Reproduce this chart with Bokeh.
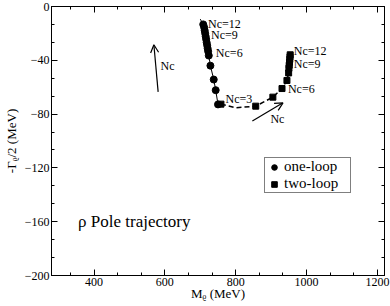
from bokeh.plotting import figure
from bokeh.models import (Range1d, SingleIntervalTicker, LinearAxis, Arrow, OpenHead,
                          Legend, LegendItem, ColumnDataSource, CustomJSTickFormatter)
from bokeh.core.properties import value
from bokeh.embed import file_html
from bokeh.resources import INLINE

# ---- data ----
one_loop_M = [708.3, 711.0, 712.4, 713.8, 715.2, 716.6, 718.0, 719.4, 720.8, 722.2, 724.0, 728.6, 738.0, 743.5, 750.0]
one_loop_G = [-13.3, -15.6, -17.8, -20.0, -22.2, -24.4, -26.7, -28.9, -31.1, -33.3, -36.5, -44.0, -54.3, -62.2, -72.8]
one_loop_line_M = [700.0] + one_loop_M
one_loop_line_G = [-9.4] + one_loop_G

two_loop_M = [758.3, 856.5, 904.9, 930.7, 944.6, 949.4, 950.2, 951.0, 951.8, 952.7, 953.2, 953.8]
two_loop_G = [-72.6, -74.1, -67.4, -61.0, -55.0, -49.4, -45.9, -43.7, -41.5, -39.3, -37.4, -35.9]
two_loop_line_M = [758.3, 800.0, 856.5, 904.9, 930.7, 944.6, 949.4, 950.2, 951.0, 951.8, 952.7, 953.2, 953.8]
two_loop_line_G = [-72.6, -75.3, -74.1, -67.4, -61.0, -55.0, -49.4, -45.9, -43.7, -41.5, -39.3, -37.4, -35.9]

arrow_x0 = [581.0, 847.0]
arrow_y0 = [-63.5, -85.2]
arrow_x1 = [569.0, 933.5]
arrow_y1 = [-28.4, -71.6]

label_text = ["Nc=12", "Nc=9", "Nc=6", "Nc=3", "Nc=12", "Nc=9", "Nc=6", "Nc", "Nc"]
label_x = [722.0, 730.5, 744.0, 771.4, 964.0, 964.0, 947.4, 587.8, 898.0]
label_y = [-13.3, -21.0, -34.8, -69.1, -33.3, -42.7, -61.0, -44.4, -83.9]

title_text = ["\u03c1 Pole trajectory"]
title_x = [355.0]
title_y = [-160.0]

series_names = ["one-loop", "two-loop"]
x_title = "M\u1d68 (MeV)"
y_title = "-\u0393\u1d68/2 (MeV)"

x_range = (280, 1220)
y_range = (-200, 0)
x_major = 200
y_major = 40

FONT = "Liberation Serif"

p = figure(width=390, height=306, output_backend="svg", toolbar_location=None,
           x_range=Range1d(*x_range), y_range=Range1d(*y_range),
           x_axis_label=x_title, y_axis_label=y_title,
           min_border_left=46, min_border_right=6, min_border_top=6, min_border_bottom=31)
p.background_fill_color = "white"
p.border_fill_color = "white"
p.outline_line_color = "black"
p.outline_line_width = 1
p.xgrid.visible = False
p.ygrid.visible = False

def style_axis(ax, ticker, labels=True):
    ax.ticker = ticker
    ax.axis_line_color = "black"
    ax.major_tick_line_color = "black"
    ax.minor_tick_line_color = "black"
    ax.major_tick_in = 6
    ax.major_tick_out = 0
    ax.minor_tick_in = 3
    ax.minor_tick_out = 0
    if labels:
        ax.major_label_text_font = FONT
        ax.major_label_text_font_size = "12px"
        ax.major_label_text_color = "black"
        ax.major_label_standoff = 2
        ax.axis_label_text_font = FONT
        ax.axis_label_text_font_size = "13px"
        ax.axis_label_text_font_style = "normal"
        ax.axis_label_text_color = "black"
    else:
        ax.formatter = CustomJSTickFormatter(code="return ''")
        ax.major_label_standoff = 0
        ax.major_label_text_font_size = "1px"

style_axis(p.xaxis[0], SingleIntervalTicker(interval=x_major, num_minor_ticks=3))
style_axis(p.yaxis[0], SingleIntervalTicker(interval=y_major, num_minor_ticks=3))
p.xaxis[0].axis_label_standoff = -3
p.yaxis[0].axis_label_standoff = 3

top_axis = LinearAxis()
style_axis(top_axis, SingleIntervalTicker(interval=x_major, num_minor_ticks=3), labels=False)
p.add_layout(top_axis, "above")
right_axis = LinearAxis()
style_axis(right_axis, SingleIntervalTicker(interval=y_major, num_minor_ticks=3), labels=False)
p.add_layout(right_axis, "right")

# curves
p.line(one_loop_line_M, one_loop_line_G, line_color="black", line_width=1)
p.line(two_loop_line_M, two_loop_line_G, line_color="black", line_width=1.5, line_dash="5 3")
r1 = p.scatter(one_loop_M, one_loop_G, marker="circle", size=7, fill_color="black", line_color="black")
r2 = p.scatter(two_loop_M, two_loop_G, marker="square", size=6, fill_color="black", line_color="black")

# arrows
arrow_src = ColumnDataSource(dict(x0=arrow_x0, y0=arrow_y0, x1=arrow_x1, y1=arrow_y1))
p.add_layout(Arrow(source=arrow_src, x_start="x0", y_start="y0", x_end="x1", y_end="y1",
                   line_color="black", line_width=1.2,
                   end=OpenHead(size=8, line_color="black", line_width=1.2)))

# labels
p.text(label_x, label_y, text=label_text, text_font=value(FONT), text_font_size="12px",
       text_baseline="middle", text_align="left", text_color="black")
p.text(title_x, title_y, text=title_text, text_font=value(FONT), text_font_size="17px",
       text_baseline="middle", text_align="left", text_color="black")

legend = Legend(items=[LegendItem(label=series_names[0], renderers=[r1]),
                       LegendItem(label=series_names[1], renderers=[r2])],
                location=(213, 82), orientation="vertical",
                label_text_font=FONT, label_text_font_size="15px", label_text_color="black",
                glyph_width=18, glyph_height=14, label_height=12, label_width=66,
                label_standoff=1, spacing=-1, padding=0, margin=0,
                border_line_color="black", border_line_width=1,
                background_fill_color="white", background_fill_alpha=1)
p.add_layout(legend, "center")

open("out.html", "w").write(file_html(p, INLINE))
